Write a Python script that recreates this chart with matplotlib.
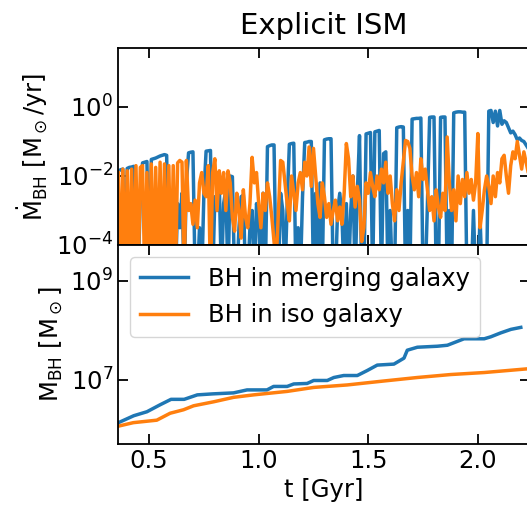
import numpy as np
import matplotlib
matplotlib.use("Agg")
import matplotlib.pyplot as plt

# ---- data ----
# accretion-rate sampling times [Gyr] (0.36 ... 2.24, step 0.01)
t_rate = np.round(np.arange(0.36, 2.2401, 0.01), 2)

# log10 accretion rate [Msun/yr]; -5 = below plotted range
log_mdot_merge = [
    -1.85, -1.82, -1.8, -5, -1.78, -1.75, -1.74, -1.72, -3.0, -5,
    -2.5, -1.62, -1.6, -1.58, -5, -1.52, -1.5, -1.48, -1.45, -1.42,
    -1.4, -1.38, -1.4, -5, -3.2, -2.4, -5, -2.8, -3.5, -2.5,
    -5, -2.2, -1.33, -1.31, -1.3, -5, -5, -3.5, -5, -2.5,
    -1.28, -1.27, -1.26, -5, -2.6, -3.0, -2.2, -5, -2.8, -2.4,
    -5, -2.0, -2.02, -5, -5, -3.5, -2.6, -2.55, -5, -5,
    -3.5, -3.0, -5, -2.8, -3.2, -5, -2.5, -5, -1.15, -1.12,
    -1.1, -1.1, -5, -5, -2.5, -3.0, -5, -2.8, -1.08, -1.06,
    -1.05, -5, -3.5, -5, -2.6, -1.03, -1.02, -1.0, -1.0, -5,
    -2.5, -5, -2.2, -5, -0.95, -0.93, -0.92, -0.92, -5, -5,
    -3.0, -2.5, -3.2, -5, -2.8, -5, -3.0, -2.0, -5, -2.5,
    -0.83, -5, -5, -0.78, -0.76, -0.74, -5, -0.72, -0.7, -0.68,
    -5, -1.35, -1.3, -5, -3.0, -5, -5, -0.6, -0.58, -0.57,
    -0.58, -5, -3.0, -5, -0.35, -0.34, -0.33, -0.33, -0.32, -5,
    -5, -2.8, -0.3, -0.29, -0.29, -5, -5, -0.3, -0.29, -0.29,
    -5, -3.0, -5, -0.17, -0.15, -0.14, -0.14, -0.15, -0.15, -5,
    -5, -5, -3.0, -5, -5, -3.2, -5, -5, -5, -0.12,
    -0.1, -0.45, -0.12, -0.55, -0.1, -0.5, -0.4, -0.45, -0.6, -0.75,
    -0.7, -0.8, -0.95, -0.9, -0.97, -1.0, -1.1, -1.2, -1.2,
]

log_mdot_iso = [
    -1.9, -5, -1.8, -5, -1.85, -5, -1.8, -5, -1.7, -5,
    -1.75, -1.7, -5, -1.9, -5, -1.65, -5, -1.75, -5, -1.6,
    -5, -1.65, -5, -1.7, -5, -1.7, -5, -1.62, -1.55, -1.6,
    -5, -1.55, -3.0, -2.8, -3.4, -2.7, -3.5, -2.2, -1.9, -2.5,
    -2.6, -1.7, -5, -1.9, -1.5, -3.0, -1.85, -2.5, -1.9, -3.0,
    -1.85, -2.2, -3.2, -3.6, -2.5, -3.0, -3.8, -2.4, -3.2, -3.5,
    -2.8, -1.46, -2.2, -1.9, -2.8, -3.5, -2.5, -3.0, -2.2, -2.6,
    -3.2, -3.9, -4.5, -3.0, -1.55, -1.6, -2.2, -2.8, -3.3, -2.0,
    -2.5, -3.0, -2.2, -1.9, -2.4, -1.6, -2.0, -1.16, -2.3, -1.2,
    -2.0, -2.8, -3.2, -2.2, -2.6, -3.2, -2.8, -3.4, -3.0, -2.7,
    -3.3, -2.9, -3.4, -2.5, -1.06, -1.5, -2.6, -2.0, -2.9, -2.3,
    -2.7, -3.9, -3.5, -2.2, -2.5, -1.9, -2.3, -2.6, -2.0, -2.4,
    -1.8, -2.2, -1.6, -2.5, -2.0, -2.8, -3.3, -2.4, -3.0, -2.2,
    -1.6, -0.97, -1.0, -1.2, -2.0, -2.4, -1.9, -2.6, -1.5, -2.1,
    -1.8, -2.4, -3.0, -2.6, -3.3, -2.4, -2.9, -3.2, -2.5, -3.0,
    -0.87, -2.2, -3.0, -2.4, -3.3, -2.0, -2.8, -2.1, -2.6, -1.9,
    -2.5, -2.1, -2.7, -2.2, -0.77, -3.5, -3.0, -2.4, -2.0, -2.3,
    -2.8, -2.0, -2.6, -1.9, -2.2, -1.5, -1.4, -2.0, -2.5, -1.7,
    -1.3, -1.5, -1.0, -1.4, -1.8, -1.3, -1.6, -1.9, -2.0,
]

# BH mass growth
t_mass_merge = [0.36, 0.43, 0.49, 0.55, 0.60, 0.66, 0.72, 0.79, 0.885, 0.947,
                1.038, 1.068, 1.13, 1.16, 1.221, 1.251, 1.313, 1.343, 1.388,
                1.45, 1.495, 1.541, 1.617, 1.663, 1.678, 1.724, 1.815, 1.861,
                1.937, 2.029, 2.059, 2.105, 2.151, 2.196]
log_mass_merge = [6.14, 6.28, 6.36, 6.50, 6.61, 6.61, 6.70, 6.72, 6.74, 6.80,
                  6.80, 6.87, 6.87, 6.92, 6.93, 6.99, 6.99, 7.05, 7.09,
                  7.09, 7.19, 7.30, 7.32, 7.44, 7.60, 7.66, 7.68, 7.70,
                  7.83, 7.83, 7.87, 7.95, 8.02, 8.06]

t_mass_iso = [0.36, 0.428, 0.535, 0.596, 0.657, 0.703, 0.794, 0.885, 0.977,
              1.13, 1.251, 1.404, 1.572, 1.724, 1.877, 2.029, 2.24]
log_mass_iso = [6.07, 6.14, 6.19, 6.33, 6.40, 6.48, 6.56, 6.65, 6.70,
                6.77, 6.85, 6.90, 6.98, 7.05, 7.11, 7.15, 7.23]

labels = ["BH in merging galaxy", "BH in iso galaxy"]
c_merge = "#1f77b4"
c_iso = "#ff7f0e"

# ---- figure ----
fs = 17.5
plt.rcParams.update({"font.family": "DejaVu Sans", "font.size": fs,
                     "mathtext.fontset": "dejavusans"})
fig = plt.figure(figsize=(5.27, 5.11), dpi=100)
L, R = 118 / 527, 530 / 527
ax1 = fig.add_axes([L, 1 - 245 / 511, R - L, (245 - 48) / 511])
ax2 = fig.add_axes([L, 1 - 444 / 511, R - L, (444 - 245) / 511], sharex=ax1)

ax1.plot(t_rate, 10.0 ** np.array(log_mdot_merge), color=c_merge, lw=2.5)
ax1.plot(t_rate, 10.0 ** np.array(log_mdot_iso), color=c_iso, lw=2.5)
ax1.set_yscale("log")
ax1.set_ylim(1e-4, 10 ** 1.71)
ax1.set_yticks([1e-4, 1e-2, 1e0])
ax1.minorticks_off()
ax1.set_ylabel(r"$\dot{\rm M}_{\rm BH}$ [M$_\odot$/yr]")
ax1.set_title("Explicit ISM", fontsize=21, pad=10)
plt.setp(ax1.get_xticklabels(), visible=False)

ax2.plot(t_mass_merge, 10.0 ** np.array(log_mass_merge), color=c_merge, lw=2.5, label=labels[0])
ax2.plot(t_mass_iso, 10.0 ** np.array(log_mass_iso), color=c_iso, lw=2.5, label=labels[1])
ax2.set_yscale("log")
ax2.set_ylim(10 ** 5.71, 10 ** 9.72)
ax2.set_yticks([1e7, 1e9])
ax2.minorticks_off()
ax2.set_ylabel(r"M$_{\rm BH}$ [M$_\odot$]")
ax2.set_xlabel("t [Gyr]")
ax2.set_xlim(0.358, 2.238)
ax2.set_xticks([0.5, 1.0, 1.5, 2.0])
ax2.legend(loc="upper left", fontsize=fs)

for ax in (ax1, ax2):
    ax.tick_params(direction="in", top=True, right=True, length=7, width=1.3)
    for sp in ax.spines.values():
        sp.set_linewidth(1.3)

fig.savefig("out.png", dpi=100)
